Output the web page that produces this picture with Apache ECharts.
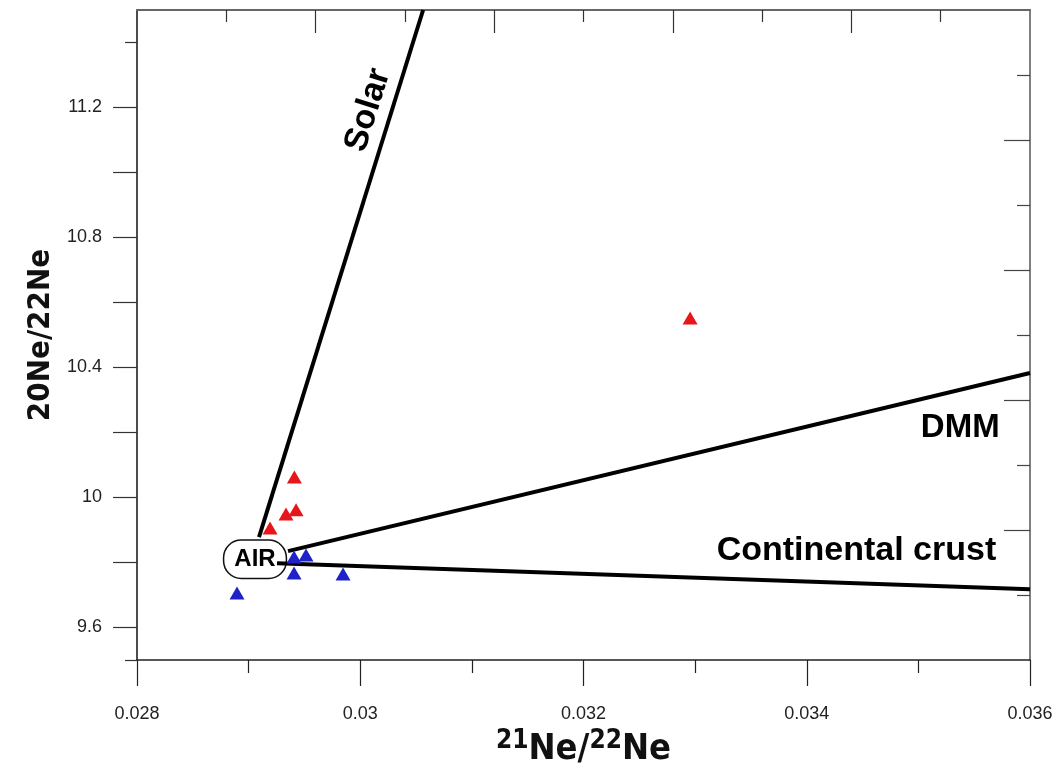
<!DOCTYPE html>
<html>
<head>
<meta charset="utf-8">
<script src="https://cdn.jsdelivr.net/npm/echarts@6/dist/echarts.min.js"></script>
<style>
html,body{margin:0;padding:0;background:#fff;}
#chart{width:1063px;height:764px;}
</style>
</head>
<body>
<div id="chart"></div>
<script>
// ---- axis ranges & ticks ----
const xRange = [0.028, 0.036];
const yRange = [9.5, 11.5];
const xLabelTicks = [0.028, 0.030, 0.032, 0.034, 0.036];
const xMinorTicks = [0.029, 0.031, 0.033, 0.035];
const topLongTicks = [0.0296, 0.0312, 0.0328, 0.0344];
const topShortTicks = [0.0288, 0.0304, 0.0320, 0.0336, 0.0352];
const yLongTicks = [9.6, 9.8, 10.0, 10.2, 10.4, 10.6, 10.8, 11.0, 11.2];
const yShortTicks = [9.5, 11.4];
const yLabelTicks = [9.6, 10.0, 10.4, 10.8, 11.2];
const rightLongTicks = [9.9, 10.3, 10.7, 11.1];
const rightShortTicks = [9.7, 10.1, 10.5, 10.9, 11.3];

// ---- data ----
const redSamples = [
  [0.02941, 10.063],
  [0.029425, 9.962],
  [0.029335, 9.949],
  [0.029192, 9.906],
  [0.032955, 10.552]
];
const blueSamples = [
  [0.028896, 9.706],
  [0.029407, 9.817],
  [0.029514, 9.823],
  [0.029407, 9.768],
  [0.029846, 9.765]
];
const solarLine = [[0.029093, 9.878], [0.030563, 11.5]];
const dmmLine = [[0.029353, 9.835], [0.036, 10.383]];
const crustLine = [[0.029254, 9.798], [0.036, 9.718]];
const airPoint = [0.029057, 9.81];
const annotations = [
  {name: 'Solar', value: [0.030070, 11.192], rotate: 72.6, size: 34},
  {name: 'DMM', value: [0.035375, 10.214], rotate: 0, size: 33},
  {name: 'Continental crust', value: [0.034445, 9.838], rotate: 0, size: 34}
];

const condensed = '"DejaVu Sans Condensed", "Liberation Sans Narrow", "Arial Narrow", "DejaVu Sans", sans-serif';
const sans = '"Liberation Sans", Arial, Helvetica, sans-serif';

function baseAxis(extra) {
  return Object.assign({
    type: 'value',
    splitLine: {show: false},
    axisLabel: {show: false},
    axisPointer: {show: false}
  }, extra);
}

const chart = echarts.init(document.getElementById('chart'), null, {renderer: 'canvas'});

const lineSeries = (name, data) => ({
  type: 'line', name, data, symbol: 'none', z: 5, clip: true,
  lineStyle: {color: '#000', width: 4}, silent: true
});

const triSeries = (name, data, color) => ({
  type: 'scatter', name, data, symbol: 'triangle', symbolSize: [15, 13], z: 6,
  itemStyle: {color: color, opacity: 1}
});

const hidden = {color: 'rgba(0,0,0,0)', opacity: 1};

chart.setOption({
  animation: false,
  grid: {left: 137, right: 33, top: 10, bottom: 104, show: false, outerBoundsMode: 'none', containLabel: false},
  xAxis: [
    baseAxis({
      min: xRange[0], max: xRange[1], position: 'bottom',
      axisLine: {show: true, onZero: false, lineStyle: {color: '#222', width: 1.5}},
      axisTick: {show: true, customValues: xLabelTicks, length: 26, inside: false, lineStyle: {color: '#222', width: 1.2}},
      axisLabel: {show: true, customValues: xLabelTicks, margin: 45, fontSize: 18, color: '#222', fontFamily: sans},
      name: '{s|21}{n|Ne/}{s|22}{n|Ne}',
      nameLocation: 'middle', nameGap: 67,
      nameTextStyle: {
        rich: {
          s: {fontSize: 26, fontWeight: 'bold', fontFamily: condensed, color: '#111', verticalAlign: 'top', lineHeight: 40, padding: [0,0,10,0]},
          n: {fontSize: 36, fontWeight: 'bold', fontFamily: condensed, color: '#111', verticalAlign: 'bottom', lineHeight: 40}
        }
      }
    }),
    baseAxis({
      min: xRange[0], max: xRange[1], position: 'bottom',
      axisLine: {show: false, onZero: false},
      axisTick: {show: true, customValues: xMinorTicks, length: 13, inside: false, lineStyle: {color: '#222', width: 1.2}}
    }),
    baseAxis({
      min: xRange[0], max: xRange[1], position: 'top',
      axisLine: {show: true, onZero: false, lineStyle: {color: '#666', width: 2}},
      axisTick: {show: true, customValues: topLongTicks, length: 23, inside: true, lineStyle: {color: '#333', width: 1.2}}
    }),
    baseAxis({
      min: xRange[0], max: xRange[1], position: 'top',
      axisLine: {show: false, onZero: false},
      axisTick: {show: true, customValues: topShortTicks, length: 12, inside: true, lineStyle: {color: '#333', width: 1.2}}
    })
  ],
  yAxis: [
    baseAxis({
      min: yRange[0], max: yRange[1], position: 'left',
      axisLine: {show: true, onZero: false, lineStyle: {color: '#111', width: 1.5}},
      axisTick: {show: true, customValues: yLongTicks, length: 24, inside: false, lineStyle: {color: '#333', width: 1.2}},
      axisLabel: {show: true, customValues: yLabelTicks, margin: 35, fontSize: 18, color: '#222', fontFamily: sans},
      name: '20Ne/22Ne', nameLocation: 'middle', nameRotate: 90, nameGap: 81,
      nameTextStyle: {fontSize: 31, fontWeight: 'bold', fontFamily: condensed, color: '#111'}
    }),
    baseAxis({
      min: yRange[0], max: yRange[1], position: 'left',
      axisLine: {show: false, onZero: false},
      axisTick: {show: true, customValues: yShortTicks, length: 12, inside: false, lineStyle: {color: '#333', width: 1.2}}
    }),
    baseAxis({
      min: yRange[0], max: yRange[1], position: 'right',
      axisLine: {show: true, onZero: false, lineStyle: {color: '#555', width: 1.5}},
      axisTick: {show: true, customValues: rightLongTicks, length: 26, inside: true, lineStyle: {color: '#444', width: 1.2}}
    }),
    baseAxis({
      min: yRange[0], max: yRange[1], position: 'right',
      axisLine: {show: false, onZero: false},
      axisTick: {show: true, customValues: rightShortTicks, length: 13, inside: true, lineStyle: {color: '#444', width: 1.2}}
    })
  ],
  series: [
    {
      type: 'scatter', name: 'AIR', data: [airPoint], symbolSize: 1, z: 1,
      itemStyle: hidden, silent: true,
      label: {
        show: true, position: 'inside', formatter: 'AIR',
        fontSize: 24, fontWeight: 'bold', fontFamily: sans, color: '#000',
        backgroundColor: '#fff', borderColor: '#111', borderWidth: 1.5, borderRadius: 17,
        padding: [7, 10, 6, 10]
      }
    },
    lineSeries('Solar', solarLine),
    lineSeries('DMM', dmmLine),
    lineSeries('Continental crust', crustLine),
    triSeries('samples A', redSamples, '#e8151b'),
    triSeries('samples B', blueSamples, '#1f22c8'),
    {
      type: 'scatter', name: 'labels', symbolSize: 1, z: 7, silent: true,
      itemStyle: hidden,
      data: annotations.map(a => ({
        name: a.name, value: a.value,
        label: {rotate: a.rotate, fontSize: a.size}
      })),
      label: {
        show: true, position: 'inside', formatter: p => p.name,
        fontSize: 33, fontWeight: 'bold', fontFamily: sans, color: '#000'
      }
    }
  ]
});
</script>
</body>
</html>
